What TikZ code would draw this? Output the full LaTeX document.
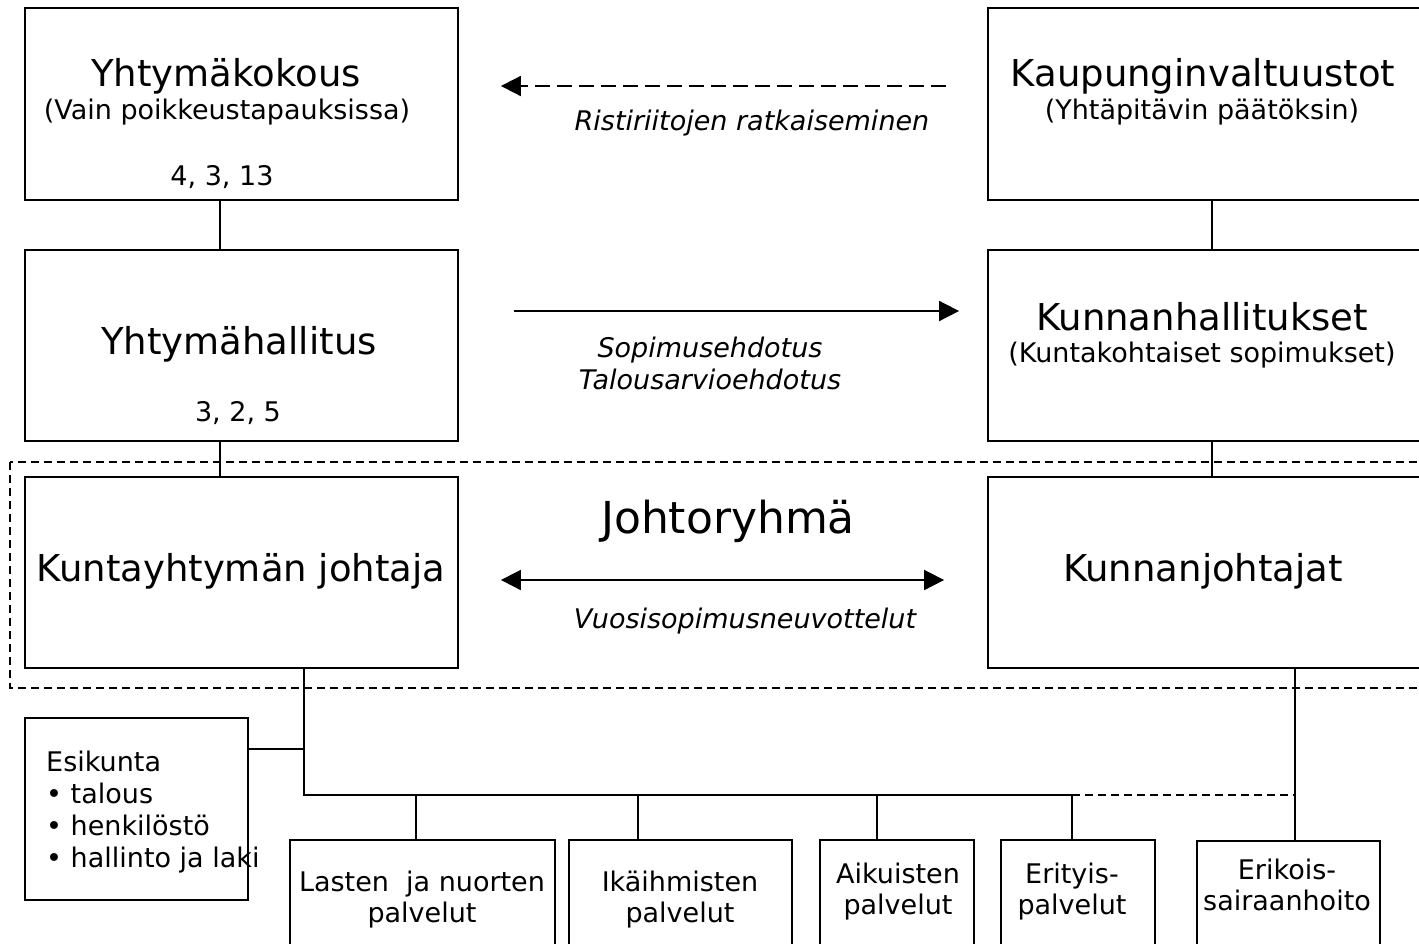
\documentclass[tikz,border=0pt]{standalone}
\usepackage{fontspec}
\setmainfont{DejaVu Sans}
\usetikzlibrary{arrows.meta}
\begin{document}
\begin{tikzpicture}[x=1pt, y=-1pt, line width=1.8pt,
  box/.style={draw, rectangle, inner sep=0pt},
  iso/.style={font=\fontsize{37}{44}\selectfont},
  pieni/.style={font=\fontsize{27}{31}\selectfont, align=center},
  kursiivi/.style={font=\fontsize{27}{32}\selectfont\itshape, align=center},
  nuoli/.style={-{Triangle[length=20pt,width=20pt]}},
  viiva/.style={dash pattern=on 8pt off 5pt}]
\useasboundingbox (0,0) rectangle (1419,943);
% ylimmat tasot
\node[box, minimum width=433pt, minimum height=192pt] (kokous) at (241.5,104) {};
\node[box, minimum width=433pt, minimum height=192pt] (valtuusto) at (1204.5,104) {};
\node[box, minimum width=433pt, minimum height=191pt] (hallitus) at (241.5,345.5) {};
\node[box, minimum width=433pt, minimum height=191pt] (khallitus) at (1204.5,345.5) {};
\node[box, minimum width=433pt, minimum height=191pt] (johtaja) at (241.5,572.5) {};
\node[box, minimum width=433pt, minimum height=191pt] (kjohtaja) at (1204.5,572.5) {};
% johtoryhma
\draw[viiva, line width=1.5pt] (10,462) rectangle (1430,688);
% tekstit
\node[iso] (kokousT) at (226,76) {Yhtymäkokous};
\node[pieni] (kokousA) at (227,112) {(Vain poikkeustapauksissa)};
\node[pieni] (kokousN) at (222,177) {4, 3, 13};
\node[iso] (valtuustoT) at (1203,76) {Kaupunginvaltuustot};
\node[pieni] (valtuustoA) at (1202,112) {(Yhtäpitävin päätöksin)};
\node[iso] (hallitusT) at (239,344) {Yhtymähallitus};
\node[pieni] (hallitusN) at (238,413) {3, 2, 5};
\node[iso] (khallitusT) at (1202,317) {Kunnanhallitukset};
\node[pieni] (khallitusA) at (1202,355) {(Kuntakohtaiset sopimukset)};
\node[iso] (johtajaT) at (241,571) {Kuntayhtymän johtaja};
\node[iso] (kjohtajaT) at (1203,571) {Kunnanjohtajat};
\node[font=\fontsize{44}{50}\selectfont] (ryhma) at (728,521) {Johtoryhmä};
% nuolet
\draw[viiva, dash pattern=on 15pt off 7pt, nuoli] ([shift={(-41pt,18pt)}]valtuusto.west) -- ([shift={(42pt,18pt)}]kokous.east);
\node[kursiivi] (ristiriita) at (752,123) {Ristiriitojen ratkaiseminen};
\draw[nuoli] ([shift={(55pt,34.5pt)}]hallitus.east) -- ([shift={(-28pt,34.5pt)}]khallitus.west);
\node[kursiivi] (ehdotus) at (710,363) {Sopimusehdotus\\Talousarvioehdotus};
\draw[{Triangle[length=20pt,width=20pt]}-{Triangle[length=20pt,width=20pt]}] ([shift={(42pt,-7.5pt)}]johtaja.east) -- ([shift={(-43pt,-7.5pt)}]kjohtaja.west);
\node[kursiivi] (neuvottelu) at (745,621) {Vuosisopimusneuvottelut};
% pystyviivat
\draw ([xshift=-21.5pt]kokous.south) -- ([xshift=-21.5pt]hallitus.north);
\draw ([xshift=7.5pt]valtuusto.south) -- ([xshift=7.5pt]khallitus.north);
\draw ([xshift=-21.5pt]hallitus.south) -- ([xshift=-21.5pt]johtaja.north);
\draw ([xshift=7.5pt]khallitus.south) -- ([xshift=7.5pt]kjohtaja.north);
% palvelut
\node[box, minimum width=223pt, minimum height=182pt] (esikunta) at (136.5,809) {};
\node[font=\fontsize{27}{32}\selectfont, align=left, anchor=west] (esikuntaT) at (42,812)
  {Esikunta\\• talous\\• henkilöstö\\• hallinto ja laki};
\node[box, minimum width=265pt, minimum height=110pt] (lasten) at (422.5,895) {};
\node[box, minimum width=223pt, minimum height=110pt] (ikaih) at (680.5,895) {};
\node[box, minimum width=154pt, minimum height=110pt] (aikuis) at (897,895) {};
\node[box, minimum width=154pt, minimum height=110pt] (erityis) at (1078,895) {};
\node[box, minimum width=183pt, minimum height=110pt] (erikois) at (1288.5,896) {};
\node[pieni] (lastenT) at (422,899.5) {Lasten\ \ ja nuorten\\palvelut};
\node[pieni] (ikaihT) at (680,899.5) {Ikäihmisten\\palvelut};
\node[pieni] (aikuisT) at (898,891.5) {Aikuisten\\palvelut};
\node[pieni] (erityisT) at (1072,892) {Erityis-\\palvelut};
\node[pieni] (erikoisT) at (1287,885) {Erikois-\\sairaanhoito};
\coordinate (haara) at ([xshift=62.5pt]johtaja.south);
\coordinate (vayla) at (0,795);
\draw (haara) |- ([xshift=-6pt]erityis.north |- vayla);
\draw ([yshift=60pt]esikunta.east) -- ([yshift=60pt]esikunta.east -| haara);
\foreach \n/\s in {lasten/-6.5, ikaih/-42.5, aikuis/-20, erityis/-6}
  \draw ([xshift=\s pt]\n.north) -- ([xshift=\s pt]\n.north |- vayla);
\draw ([xshift=90.5pt]kjohtaja.south) -- ([xshift=6.5pt]erikois.north);
\draw[viiva] ([xshift=-6pt]erityis.north |- vayla) -- ([xshift=6.5pt]erikois.north |- vayla);
\end{tikzpicture}
\end{document}
